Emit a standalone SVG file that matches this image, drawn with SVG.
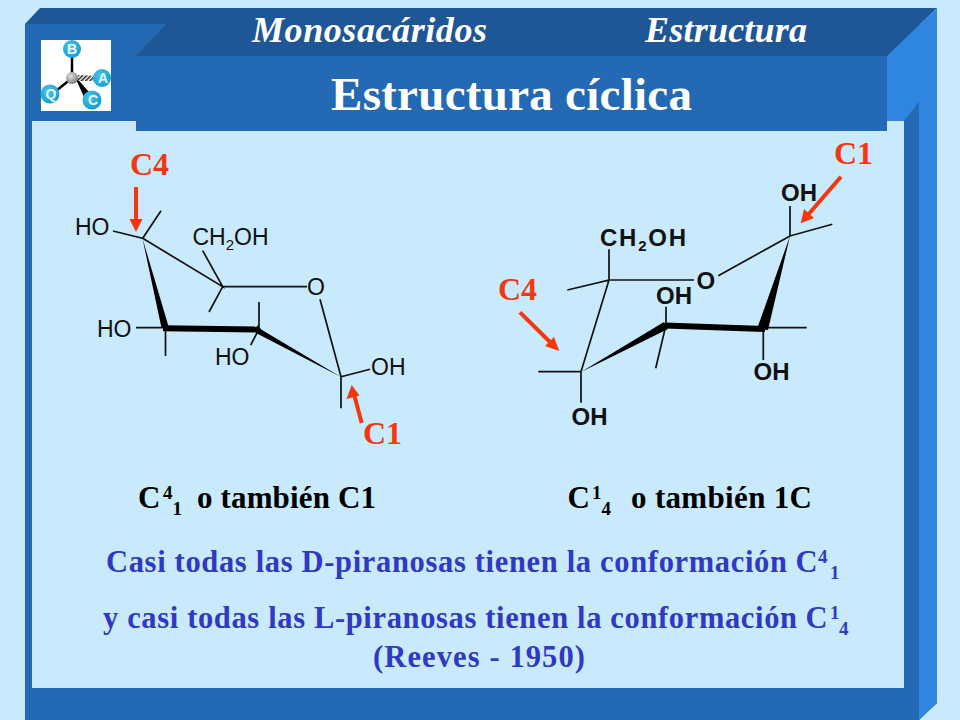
<svg xmlns="http://www.w3.org/2000/svg" width="960" height="720" viewBox="0 0 960 720">
<defs>
<radialGradient id="ball" cx="40%" cy="35%" r="70%"><stop offset="0" stop-color="#4cc4e8"/><stop offset="1" stop-color="#119cd0"/></radialGradient>
<radialGradient id="hub" cx="40%" cy="35%" r="70%"><stop offset="0" stop-color="#e0e0e0"/><stop offset="1" stop-color="#777"/></radialGradient>
<pattern id="hatch" width="3" height="3" patternUnits="userSpaceOnUse" patternTransform="rotate(45)"><rect width="3" height="3" fill="#fff"/><rect width="1.5" height="3" fill="#222"/></pattern>
</defs>
<style>
.s{font-family:"Liberation Serif","Times New Roman",serif;font-weight:700}
.hd{font-style:italic;fill:#fff;font-size:36px}
.t{fill:#000;font-size:31px}
.b{fill:#3039c4;font-size:30.5px}
.n{font-size:19px}
.r{fill:#f5360f;font-size:32px}
.a{font-family:"Liberation Sans",Arial,sans-serif;font-size:23px;fill:#111}
.ab{font-family:"Liberation Sans",Arial,sans-serif;font-size:24px;fill:#111;font-weight:700}
.bond{stroke:#111;stroke-width:1.7;fill:none}
.bold{stroke:#000;stroke-width:6;fill:none}
.ar{stroke:#f5360f;stroke-width:4;fill:none}
.hl{fill:#f5360f}
.ic{font-family:"Liberation Sans",Arial,sans-serif;font-weight:700;font-size:14px;fill:#e8f8ff;text-anchor:middle}
</style>
<rect width="960" height="720" fill="#c9eafc"/>
<g id="frame">
<path d="M25 24H937V703L919 720H25Z" fill="#2469b3"/>
<path d="M25 24L40 8H937L887 56H136L166 24Z" fill="#1f5796"/>
<path d="M887 56L937 8V703L919 720V102L904 121L887 131Z" fill="#2f86e0"/>
<rect x="32" y="121" width="872" height="567" fill="#c9eafc"/>
<path d="M904 121L919 102V720H904Z" fill="#2469b3"/>
<rect x="136" y="56" width="751" height="75" fill="#2469b3"/>
</g>
<g id="icon">
<rect x="41" y="40" width="70" height="71" fill="#fff"/>
<path d="M72 78V50" stroke="#000" stroke-width="2.500"/>
<path d="M72 78L51 95" stroke="#000" stroke-width="2.500"/>
<path d="M74 75L89 92L84 97Z" fill="#000"/>
<path d="M78 75L100 76V81L78 81Z" fill="url(#hatch)"/>
<circle cx="72" cy="78" r="6" fill="url(#hub)"/>
<circle cx="72" cy="49" r="9" fill="url(#ball)"/><text class="ic" x="72" y="54">B</text>
<circle cx="102" cy="78" r="9" fill="url(#ball)"/><text class="ic" x="103" y="83">A</text>
<circle cx="92" cy="100" r="9.500" fill="url(#ball)"/><text class="ic" x="93" y="105">C</text>
<circle cx="50" cy="94" r="9.500" fill="url(#ball)"/><text class="ic" x="51" y="99">Q</text>
</g>
<g id="header">
<text class="s hd" x="252" y="42" textLength="235">Monosacáridos</text>
<text class="s hd" x="645" y="42" textLength="162">Estructura</text>
<text class="s" x="331" y="110" font-size="47" fill="#fff" textLength="361">Estructura cíclica</text>
</g>
<g id="connectors">
<path class="bond" d="M161 210.700L142.700 238.300L113 231M142.700 238.300L222.700 286.700L202.700 250.700M222.700 286.700L209 312M222.700 286.700H307M320 299.300L341 376.700L370 369.300M341 376.700V408.300M136 327.700H165.700M165.500 328V356M259 329V302M259 329L250.700 345"/>
<path d="M142.500 238.500L169 328H161.500Z" fill="#000"/>
<path class="bold" d="M163 328.300L259 329.500"/>
<path d="M257 325L262 330L341 377L256 333Z" fill="#000"/>
<path class="bond" d="M790 206V236L832.300 224.300M790 236L718.300 275.700M609 249.300V280L567.300 290M609 280H694M609 280L581 371.700H538.300M581 371.700V402.700M666 306.700V325L655.700 368.300M763.300 328V360M763 327.700H806.700"/>
<path d="M581 372L664 322L668 329Z" fill="#000"/>
<path class="bold" d="M665 325.500L765 329"/>
<path d="M790 236L768 330L757 329Z" fill="#000"/>
<path class="ar" d="M136 187V222"/><path class="hl" d="M136 232L129.500 219H142.500Z"/>
<path class="ar" d="M361.700 423L354.200 395"/><path class="hl" d="M351.700 385L346.500 399L359.500 395.500Z"/>
<path class="ar" d="M841 176.700L807 216"/><path class="hl" d="M800.700 223.300L804 209L814 218Z"/>
<path class="ar" d="M520 312.300L552 344"/><path class="hl" d="M559.300 351L545 346L554 337Z"/>
</g>
<g id="molecule-c41">
<text class="a" x="75" y="235">HO</text>
<text class="a" x="192.500" y="245">CH<tspan font-size="15" dy="5">2</tspan><tspan dy="-5">OH</tspan></text>
<text class="a" x="307" y="295">O</text>
<text class="a" x="97" y="337">HO</text>
<text class="a" x="215" y="365">HO</text>
<text class="a" x="371" y="375">OH</text>
</g>
<g id="molecule-c14">
<text class="ab" x="781" y="201">OH</text>
<text class="ab" x="600" y="245.500" textLength="86">CH<tspan font-size="15" dy="5">2</tspan><tspan dy="-5">OH</tspan></text>
<text class="ab" x="696.500" y="288.500">O</text>
<text class="ab" x="656" y="303.500">OH</text>
<text class="ab" x="753.500" y="380">OH</text>
<text class="ab" x="571.500" y="424.500">OH</text>
</g>
<g id="labels">
<text class="s r" x="130" y="175">C4</text>
<text class="s r" x="363" y="444">C1</text>
<text class="s r" x="834" y="164">C1</text>
<text class="s r" x="498" y="300">C4</text>
<text class="s t" x="138" y="508">C</text><text class="s t n" x="163" y="499">4</text><text class="s t n" x="172.500" y="515">1</text>
<text class="s t" x="197" y="508" textLength="179">o también C1</text>
<text class="s t" x="567.500" y="508">C</text><text class="s t n" x="592" y="499">1</text><text class="s t n" x="601.500" y="515">4</text>
<text class="s t" x="631" y="508" textLength="181">o también 1C</text>
<text class="s b" x="106" y="571.500" textLength="681">Casi todas las D-piranosas tienen la conformación</text>
<text class="s b" x="103" y="627.500" textLength="694">y casi todas las L-piranosas tienen la conformación</text>
<text class="s b" x="373" y="666.500" textLength="212">(Reeves  - 1950)</text>
<text class="s b" x="795.500" y="571.500">C</text><text class="s b n" x="818" y="563">4</text><text class="s b n" x="830" y="579">1</text>
<text class="s b" x="805.500" y="627.500">C</text><text class="s b n" x="830" y="619">1</text><text class="s b n" x="839" y="635">4</text>
</g>
</svg>
